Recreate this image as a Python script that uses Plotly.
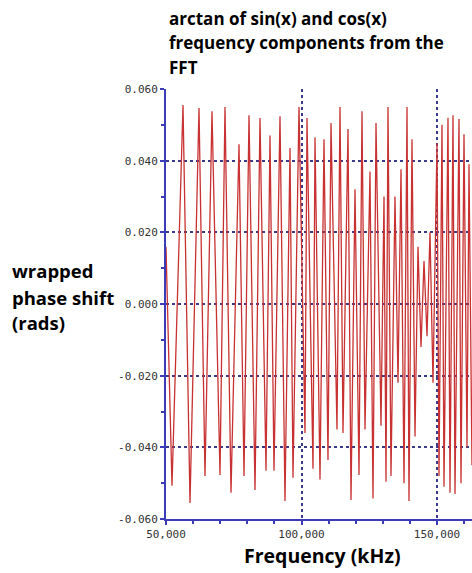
import plotly.graph_objects as go

# Frequency samples (x) and wrapped phase values (rads)
freq = [50000, 52214, 56273, 58856, 62177, 64391, 66974, 69926, 71771, 73985,
        76937, 78782, 80627, 82841, 84686, 86900, 88376, 89852, 92066, 93911,
        95756, 96863, 99077, 101291, 102029, 104243, 104981, 106826, 108302, 109778,
        110885, 113099, 114206, 115313, 117158, 118265, 119741, 121217, 122324, 123431,
        125276, 126383, 127490, 129335, 130442, 131180, 131918, 133025, 134501, 135608,
        136715, 137822, 138929, 139667, 140774, 141881, 142988, 144095, 145202, 146309,
        147416, 148523, 150000, 150737, 151844, 152582, 154058, 154796, 155903, 156641,
        158117, 158855, 159962, 161069, 161807, 162914]
phase = [0.016, -0.0507, 0.0555, -0.0555, 0.0547, -0.048, 0.0538, -0.0477, 0.055, -0.0527,
         0.0446, -0.048, 0.0527, -0.0519, 0.0519, -0.0465, 0.047, -0.0465, 0.0524, -0.055,
         0.0435, -0.0485, 0.055, -0.036, 0.0519, -0.046, 0.0465, -0.049, 0.046, -0.0435,
         0.0505, -0.035, 0.055, -0.036, 0.0488, -0.0547, 0.032, -0.0477, 0.0538, -0.035,
         0.037, -0.0543, 0.0505, -0.034, 0.030, -0.0496, 0.055, -0.048, 0.030, -0.022,
         0.0376, -0.050, 0.055, -0.055, 0.046, -0.037, 0.016, -0.012, 0.012, -0.009,
         0.020, -0.022, 0.0449, -0.048, 0.050, -0.051, 0.052, -0.0527, 0.0527, -0.053,
         0.0516, -0.050, 0.0474, -0.040, 0.039, -0.045]

x_tick_vals = [50000, 100000, 150000]
x_tick_text = ["50,000", "100,000", "150,000"]
y_tick_vals = [-0.06, -0.04, -0.02, 0.0, 0.02, 0.04, 0.06]
y_tick_text = ["-0.060", "-0.040", "-0.020", "0.000", "0.020", "0.040", "0.060"]

title_lines = ["arctan of sin(x) and cos(x)", "frequency components from the", "FFT"]
ytitle_lines = ["wrapped", "phase shift", "(rads)"]
xtitle = "Frequency (kHz)"

AXIS = "#3c3cb8"
GRID = "#3a3a8c"
LINE = "#c83232"

fig = go.Figure()
fig.add_trace(go.Scatter(x=freq, y=phase, mode="lines",
                         line=dict(color=LINE, width=1.3), hoverinfo="skip"))

tick_font = dict(family="DejaVu Sans Mono", size=11, color="#333333")

fig.update_layout(
    width=472, height=573,
    margin=dict(l=166, r=0, t=89, b=54),
    paper_bgcolor="white", plot_bgcolor="white",
    showlegend=False,
    xaxis=dict(range=[50000, 162914], showline=True, linecolor=AXIS, linewidth=2,
               tickmode="array", tickvals=x_tick_vals, ticktext=x_tick_text,
               ticks="outside", ticklen=4, tickcolor=AXIS, tickwidth=1.5,
               tickfont=tick_font, zeroline=False,
               showgrid=True, gridcolor=GRID, griddash="dot", gridwidth=1.5,
               minor=dict(tickmode="linear", tick0=50000, dtick=10000, ticks="outside",
                          ticklen=3, tickcolor=AXIS, showgrid=False)),
    yaxis=dict(range=[-0.06, 0.06], showline=True, linecolor=AXIS, linewidth=2,
               tickmode="array", tickvals=y_tick_vals, ticktext=y_tick_text,
               ticks="outside", ticklen=4, tickcolor=AXIS, tickwidth=1.5,
               tickfont=tick_font, zeroline=False,
               showgrid=True, gridcolor=GRID, griddash="dot", gridwidth=1.5,
               minor=dict(tickmode="linear", tick0=-0.06, dtick=0.01, ticks="outside",
                          ticklen=3, tickcolor=AXIS, showgrid=False)),
)

tfont = dict(family="Open Sans", size=17, color="black")
for txt, yy in zip(title_lines, [1.165, 1.107, 1.049]):
    fig.add_annotation(text="<b>%s</b>" % txt, xref="paper", yref="paper",
                       x=0.003, y=yy, xanchor="left", yanchor="middle",
                       showarrow=False, font=tfont)
yfont = dict(family="Open Sans", size=18.5, color="black")
for txt, yy in zip(ytitle_lines, [0.579, 0.516, 0.456]):
    fig.add_annotation(text="<b>%s</b>" % txt, xref="paper", yref="paper",
                       x=-0.51, y=yy, xanchor="left", yanchor="middle",
                       showarrow=False, font=yfont)
fig.add_annotation(text="<b>%s</b>" % xtitle, xref="paper", yref="paper",
                   x=0.513, y=-0.084, xanchor="center", yanchor="middle",
                   showarrow=False, font=dict(family="Open Sans", size=19.5, color="black"))

# remove the default 8px page margin so the 472x573 figure fills the window exactly
fig.write_html("out.html", config={"displayModeBar": False},
               post_script="document.body.style.margin='0';document.body.style.overflow='hidden';")
